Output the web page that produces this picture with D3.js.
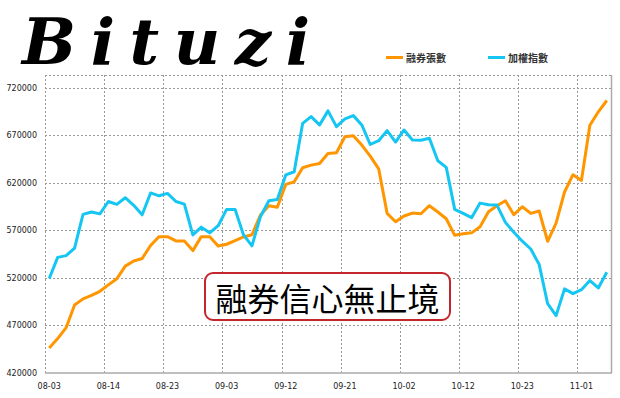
<!DOCTYPE html>
<html>
<head>
<meta charset="utf-8">
<script src="https://cdn.jsdelivr.net/npm/d3@7"></script>
<style>
  body { margin: 0; background: #fff; }
  svg { display: block; }
</style>
</head>
<body>
<div id="chart"></div>
<script>
const dates = ["08-03","08-06","08-07","08-08","08-09","08-10","08-13","08-14","08-15","08-16",
  "08-17","08-20","08-21","08-22","08-23","08-24","08-27","08-28","08-29","08-30",
  "08-31","09-03","09-04","09-05","09-06","09-07","09-10","09-11","09-12","09-13",
  "09-14","09-17","09-18","09-19","09-20","09-21","09-24","09-25","09-26","09-27",
  "09-28","10-01","10-02","10-03","10-04","10-05","10-08","10-09","10-11","10-12",
  "10-15","10-16","10-17","10-18","10-19","10-22","10-23","10-24","10-25","10-26",
  "10-29","10-30","10-31","11-01","11-02","11-05","11-06"];

// 融券張數
const shortSales = [445900,455700,467200,491000,497500,501200,505500,512200,518600,532000,
  537400,540000,553700,563000,563000,558500,558300,548300,563000,563000,
  553200,555000,558800,562700,565000,585700,595500,594000,618000,620700,
  635500,638300,640000,650600,651300,668200,669300,659400,647700,634400,
  587500,578700,584700,587800,587100,595600,588900,581800,564400,566100,
  567000,573500,589200,595500,600800,586100,594500,587500,590000,558100,
  577300,610000,628200,622100,680200,694400,706300];

// 加權指數 (plotted on the same axis)
const taiex = [519000,541200,543000,551000,586400,589000,587000,600000,597000,604000,
  596000,586000,609000,606000,608500,600000,597300,564800,573000,567000,
  574500,591700,591700,564800,553300,584000,600800,602000,628000,631300,
  682300,689400,680600,695400,678800,687000,690400,680600,660000,664000,
  674600,662600,675300,664700,664400,666500,642900,635900,591700,587500,
  583000,598300,596600,596200,578000,567600,558200,550000,533600,492400,
  479900,508000,503000,507200,516800,509000,525600];

const yTicks = [420000,470000,520000,570000,620000,670000,720000];
const seriesNames = ["融券張數","加權指數"];
const colors = ["#ff9600","#15c6f3"];

const width = 620, height = 398;
const svg = d3.select("#chart").append("svg")
  .attr("width", width).attr("height", height);

const x = d3.scaleBand().domain(dates).range([45, 611]);
const y = d3.scaleLinear().domain([420000, 720000]).range([372.5, 87.5]);

// logo
svg.append("text")
  .attr("x", 22).attr("y", 64)
  .attr("textLength", 288).attr("lengthAdjust", "spacing")
  .style("font-family", "DejaVu Serif").style("font-weight", "bold")
  .style("font-style", "italic").style("font-size", "64px")
  .attr("fill", "#000")
  .text("Bituzi");

// grid
const grid = svg.append("g").attr("stroke", "#999").attr("stroke-dasharray", "2,2").attr("stroke-width", 1);
grid.selectAll("line.h").data(yTicks.slice(1)).enter().append("line")
  .attr("x1", 45).attr("x2", 611)
  .attr("y1", d => Math.round(y(d)) + 0.5).attr("y2", d => Math.round(y(d)) + 0.5);
grid.append("line").attr("x1", 45).attr("x2", 611).attr("y1", 75.5).attr("y2", 75.5);
const vIdx = d3.range(0, dates.length, 7);
grid.selectAll("line.v").data(vIdx).enter().append("line")
  .attr("x1", d => Math.round(x(dates[d])) + 0.5).attr("x2", d => Math.round(x(dates[d])) + 0.5)
  .attr("y1", 75).attr("y2", 372.5);

// frame
svg.append("line").attr("x1", 611.5).attr("x2", 611.5).attr("y1", 75).attr("y2", 373)
  .attr("stroke", "#aaa").attr("stroke-width", 1.5);
svg.append("line").attr("x1", 45).attr("x2", 612).attr("y1", 373).attr("y2", 373)
  .attr("stroke", "#aaa").attr("stroke-width", 1.5);

// axes
const yAxis = svg.append("g").attr("transform", "translate(37,0)")
  .call(d3.axisLeft(y).tickValues(yTicks).tickSize(0).tickPadding(0).tickFormat(d3.format("d")));
const xAxis = svg.append("g").attr("transform", "translate(0,377)")
  .call(d3.axisBottom(x).tickValues(vIdx.map(i => dates[i])).tickSize(0).tickPadding(0));
[yAxis, xAxis].forEach(a => {
  a.select(".domain").remove();
  a.selectAll("text").style("font-family", "DejaVu Sans").style("font-size", "8px").attr("fill", "#222");
});
xAxis.selectAll("text").attr("dy", "0.71em").attr("y", 6);

// lines
const line = d3.line().x((d, i) => x(dates[i]) + x.bandwidth() / 2).y(d => y(d));
[shortSales, taiex].forEach((s, k) => {
  svg.append("path").datum(s).attr("d", line)
    .attr("fill", "none").attr("stroke", colors[k]).attr("stroke-width", 3)
    .attr("stroke-linejoin", "round");
});

// legend
const legendX = [386, 488];
seriesNames.forEach((n, k) => {
  svg.append("line").attr("x1", legendX[k]).attr("x2", legendX[k] + 17)
    .attr("y1", 57.5).attr("y2", 57.5).attr("stroke", colors[k]).attr("stroke-width", 3);
  svg.append("text").attr("x", legendX[k] + 20).attr("y", 61.5)
    .style("font-family", "Noto Sans CJK TC").style("font-size", "10px").style("font-weight", "bold")
    .attr("fill", "#333").text(n);
});

// annotation
svg.append("rect").attr("x", 205).attr("y", 273).attr("width", 245).attr("height", 47)
  .attr("rx", 8).attr("fill", "#fff").attr("stroke", "#c3272d").attr("stroke-width", 2);
svg.append("text").attr("x", 327.5).attr("y", 297).attr("text-anchor", "middle")
  .attr("dominant-baseline", "central")
  .style("font-family", "Noto Sans CJK TC").style("font-size", "32px")
  .attr("fill", "#000").text("融券信心無止境");
</script>
</body>
</html>
